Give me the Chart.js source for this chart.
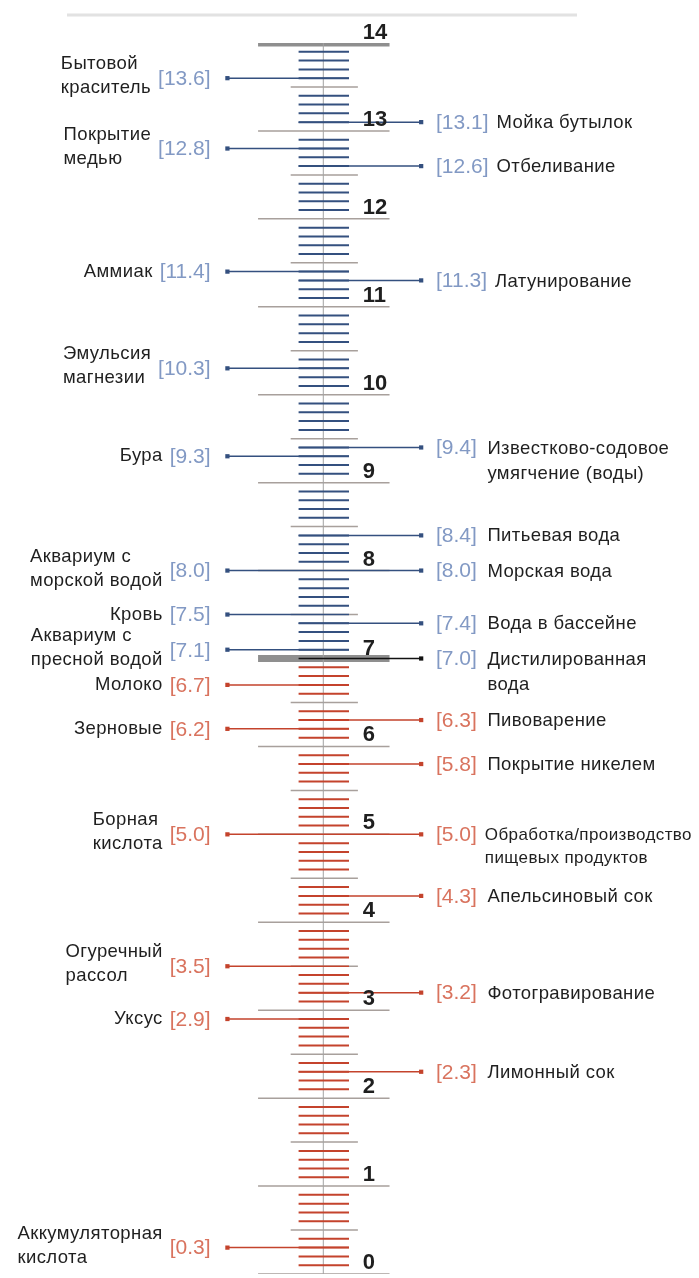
<!DOCTYPE html>
<html>
<head>
<meta charset="utf-8">
<script src="https://cdn.jsdelivr.net/npm/chart.js@4/dist/chart.umd.min.js"></script>
<style>
  html, body { margin: 0; padding: 0; background: #fff; }
  #chart { display: block; }
</style>
</head>
<body>
<canvas id="chart" width="699" height="1278"></canvas>
<script>
// pH scale
var phMin = 0;
var phMax = 14;
var neutral = 7;
var scaleLabels = ["0", "1", "2", "3", "4", "5", "6", "7", "8", "9", "10", "11", "12", "13", "14"];

// left side: values and names
var leftValues = [13.6, 12.8, 11.4, 10.3, 9.3, 8.0, 7.5, 7.1, 6.7, 6.2, 5.0, 3.5, 2.9, 0.3];
var leftNames = [
  ["Бытовой", "краситель"],
  ["Покрытие", "медью"],
  ["Аммиак"],
  ["Эмульсия", "магнезии"],
  ["Бура"],
  ["Аквариум с", "морской водой"],
  ["Кровь"],
  ["Аквариум с", "пресной водой"],
  ["Молоко"],
  ["Зерновые"],
  ["Борная", "кислота"],
  ["Огуречный", "рассол"],
  ["Уксус"],
  ["Аккумуляторная", "кислота"]
];

// right side: values and names
var rightValues = [13.1, 12.6, 11.3, 9.4, 8.4, 8.0, 7.4, 7.0, 6.3, 5.8, 5.0, 4.3, 3.2, 2.3];
var rightNames = [
  ["Мойка бутылок"],
  ["Отбеливание"],
  ["Латунирование"],
  ["Известково-содовое", "умягчение (воды)"],
  ["Питьевая вода"],
  ["Морская вода"],
  ["Вода в бассейне"],
  ["Дистилированная", "вода"],
  ["Пивоварение"],
  ["Покрытие никелем"],
  ["Обработка/производство", "пищевых продуктов"],
  ["Апельсиновый сок"],
  ["Фотогравирование"],
  ["Лимонный сок"]
];

var blueTick = "#34507f";
var redTick = "#c4432c";
var greyLine = "#a8a09c";
var barGrey = "#8f8f8f";
var blueBracket = "#8299c4";
var redBracket = "#d9735e";
var textColor = "#1f1f1f";

// horizontal extents, in px from the centre line
var shortL = -25, shortR = 26;
var halfL = -33, halfR = 35;
var longL = -66, longR = 67;
var dotL = -97, dotR = 99;

function seg(arr, x1, x2, y) {
  arr.push({ x: x1, y: y }, { x: x2, y: y }, { x: null, y: null });
}

var minorBlue = [], minorRed = [], halfLines = [], intLines = [], bars = [];
for (var i = phMin * 10; i <= phMax * 10; i++) {
  var v = i / 10;
  if (i % 10 === 0) {
    if (v === phMax || v === neutral) seg(bars, longL, longR, v);
    else seg(intLines, longL, longR, v);
  } else if (i % 5 === 0) {
    seg(halfLines, halfL, halfR, v);
  } else if (v > neutral) {
    seg(minorBlue, shortL, shortR, v);
  } else {
    seg(minorRed, shortL, shortR, v);
  }
}

var leadBlue = [], leadRed = [], leadBlack = [];
var dotBlue = [], dotRed = [], dotBlack = [];
leftValues.forEach(function (v) {
  if (v > neutral) { seg(leadBlue, dotL, shortR, v); dotBlue.push({ x: dotL, y: v }); }
  else { seg(leadRed, dotL, shortR, v); dotRed.push({ x: dotL, y: v }); }
});
rightValues.forEach(function (v) {
  if (v === neutral) { seg(leadBlack, shortL, dotR, v); dotBlack.push({ x: dotR, y: v }); }
  else if (v > neutral) { seg(leadBlue, shortL, dotR, v); dotBlue.push({ x: dotR, y: v }); }
  else { seg(leadRed, shortL, dotR, v); dotRed.push({ x: dotR, y: v }); }
});

function lineSet(data, color, width, order) {
  return {
    data: data, showLine: true, borderColor: color, borderWidth: width,
    pointRadius: 0, spanGaps: false, order: order, borderCapStyle: "butt"
  };
}
function dotSet(data, color) {
  return {
    data: data, showLine: false, pointStyle: "rect", pointRadius: 3,
    backgroundColor: color, borderWidth: 0, order: 0
  };
}

var textPlugin = {
  id: "phText",
  beforeDraw: function (chart) {
    var ctx = chart.ctx;
    ctx.save();
    ctx.strokeStyle = "#e2e2e2";
    ctx.lineWidth = 3;
    ctx.beginPath();
    ctx.moveTo(67, 15);
    ctx.lineTo(577, 15);
    ctx.stroke();
    ctx.restore();
  },
  afterDatasetsDraw: function (chart) {
    var ctx = chart.ctx;
    var xs = chart.scales.x, ys = chart.scales.y;
    ctx.save();

    // scale numbers
    ctx.fillStyle = textColor;
    ctx.font = "bold 22px 'Liberation Sans', Arial, sans-serif";
    ctx.textAlign = "left";
    ctx.textBaseline = "alphabetic";
    scaleLabels.forEach(function (t, k) {
      var off = (k === phMax || k === neutral) ? 4 : 5;
      ctx.fillText(t, xs.getPixelForValue(40), ys.getPixelForValue(k) - off);
    });

    var bracketFont = "21px 'Liberation Sans', Arial, sans-serif";
    var nameFont = "18.5px 'Liberation Sans', Arial, sans-serif";
    var smallFont = "17px 'Liberation Sans', Arial, sans-serif";
    var spacing = "0.4px";

    // left labels
    leftValues.forEach(function (v, k) {
      var py = ys.getPixelForValue(v);
      var br = "[" + v.toFixed(1) + "]";
      ctx.letterSpacing = "0px";
      ctx.font = bracketFont;
      ctx.fillStyle = v > neutral ? blueBracket : redBracket;
      ctx.textAlign = "right";
      ctx.textBaseline = "middle";
      var bx = xs.getPixelForValue(-114);
      ctx.fillText(br, bx, py + 1);
      var bw = ctx.measureText(br).width;
      ctx.font = nameFont;
      ctx.letterSpacing = spacing;
      ctx.fillStyle = textColor;
      var lines = leftNames[k];
      var w = 0;
      lines.forEach(function (s) { w = Math.max(w, ctx.measureText(s).width); });
      var nx = bx - bw - 7 - w;
      ctx.textAlign = "left";
      var lh = 24;
      var y0 = py - (lines.length - 1) * lh / 2 - (lines.length > 1 ? 2 : 0);
      lines.forEach(function (s, j) { ctx.fillText(s, nx, y0 + j * lh); });
    });

    // right labels
    rightValues.forEach(function (v, k) {
      var py = ys.getPixelForValue(v);
      var br = "[" + v.toFixed(1) + "]";
      ctx.letterSpacing = "0px";
      ctx.font = bracketFont;
      ctx.fillStyle = v >= neutral ? blueBracket : redBracket;
      ctx.textAlign = "left";
      ctx.textBaseline = "middle";
      var bx = xs.getPixelForValue(114);
      ctx.fillText(br, bx, py + 1);
      var bEnd = bx + ctx.measureText(br).width;
      var lines = rightNames[k];
      var small = lines[0].length > 20;
      ctx.font = small ? smallFont : nameFont;
      ctx.letterSpacing = spacing;
      ctx.fillStyle = textColor;
      var lh = small ? 23 : 25;
      var nx = Math.max(xs.getPixelForValue(small ? 161 : 166), bEnd + 8);
      lines.forEach(function (s, j) {
        ctx.fillText(s, nx, py + 1 + j * lh);
      });
    });
    ctx.restore();
  }
};

new Chart(document.getElementById("chart"), {
  type: "scatter",
  data: {
    datasets: [
      dotSet(dotBlack, "#111111"),
      dotSet(dotBlue, blueTick),
      dotSet(dotRed, redTick),
      lineSet(leadBlack, "#111111", 1.5, 1),
      lineSet(leadBlue, blueTick, 1.5, 2),
      lineSet(leadRed, redTick, 1.5, 2),
      lineSet(minorBlue, blueTick, 2, 3),
      lineSet(minorRed, redTick, 2, 3),
      lineSet([{ x: 0, y: phMin }, { x: 0, y: phMax }], "#a3a3a3", 1, 4),
      lineSet(bars, barGrey, 7, 5),
      lineSet(halfLines, greyLine, 1.5, 6),
      lineSet(intLines, greyLine, 1.5, 6)
    ]
  },
  options: {
    responsive: false,
    animation: false,
    layout: { padding: { top: 43, bottom: 1, left: 0, right: 0 } },
    scales: {
      x: { type: "linear", min: -323, max: 376, display: false },
      y: { type: "linear", min: phMin, max: phMax, display: false }
    },
    plugins: { legend: { display: false }, tooltip: { enabled: false } }
  },
  plugins: [textPlugin]
});
</script>
</body>
</html>
